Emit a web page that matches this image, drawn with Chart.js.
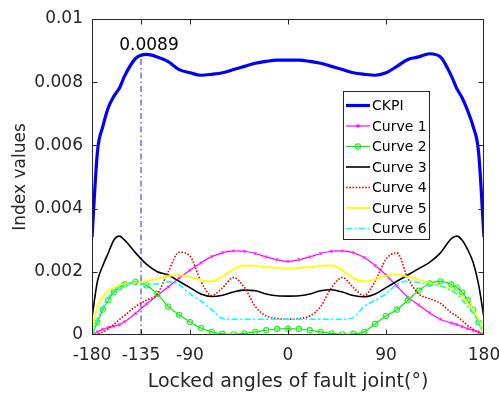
<!DOCTYPE html>
<html>
<head>
<meta charset="utf-8">
<script src="https://cdn.jsdelivr.net/npm/chart.js@4/dist/chart.umd.min.js"></script>
<style>
html,body{margin:0;padding:0;background:#fff;}
canvas{display:block;}
</style>
</head>
<body>
<canvas id="c" width="499" height="395"></canvas>
<script>
// ---- data ----
const angles = [-180,-175,-170,-165,-160,-155,-150,-140,-130,-120,-110,-100,-90,-80,-70,-60,-50,-40,-30,-20,-10,0,10,20,30,40,50,60,70,80,90,100,110,120,130,140,150,155,160,165,170,175,180];
const xTickValues = [-180,-135,-90,0,90,180];
const yTickValues = [0,0.002,0.004,0.006,0.008,0.01];
const seriesNames = ['CKPI','Curve 1','Curve 2','Curve 3','Curve 4','Curve 5','Curve 6'];

const ckpi = [0.0031,0.0058,0.0066,0.0072,0.00755,0.0078,0.0082,0.00875,0.00888,0.0088,0.00865,0.0084,0.0083,0.00822,0.00825,0.0083,0.0084,0.0085,0.0086,0.00866,0.0087,0.0087,0.0087,0.00866,0.0086,0.0085,0.0084,0.0083,0.00825,0.00822,0.0083,0.0085,0.00872,0.0088,0.0089,0.0088,0.0082,0.0078,0.0075,0.0071,0.0066,0.0058,0.0031];
const curve1 = [0,0.0001,0.00018,0.00024,0.00028,0.00032,0.00042,0.00068,0.00098,0.00125,0.00152,0.0018,0.00205,0.00228,0.00248,0.0026,0.00266,0.00265,0.00258,0.00247,0.00238,0.00233,0.00238,0.00247,0.00258,0.00265,0.00266,0.0026,0.00245,0.0022,0.0019,0.00155,0.0012,0.00095,0.0007,0.0005,0.00038,0.00033,0.00026,0.0002,0.00015,0.0001,0];
const curve2 = [0,0.0004,0.0008,0.0011,0.00135,0.0015,0.0016,0.00168,0.00157,0.0013,0.0009,0.00064,0.00041,0.00022,0.0001,0.00004,0.00002,0.00005,0.0001,0.00015,0.00019,0.0002,0.00019,0.00015,0.0001,0.00005,0.00002,0.00004,0.0001,0.00035,0.0006,0.0008,0.0011,0.0014,0.00163,0.0017,0.0016,0.0015,0.00135,0.0011,0.0008,0.0004,0];
const curve3 = [0.00055,0.0017,0.0022,0.0026,0.003,0.00313,0.003,0.0026,0.00224,0.002,0.0019,0.0017,0.0015,0.0013,0.00122,0.00126,0.00136,0.00142,0.0014,0.0013,0.00124,0.00123,0.00124,0.0013,0.0014,0.00143,0.00136,0.00125,0.00121,0.0013,0.0015,0.0017,0.0019,0.0021,0.0023,0.0026,0.00305,0.00313,0.003,0.0027,0.0023,0.0016,0.00054];
const curve4 = [0,0.00003,0.0001,0.0002,0.00033,0.00048,0.00062,0.0009,0.0011,0.0013,0.002,0.00262,0.0025,0.0017,0.00125,0.0015,0.00182,0.0015,0.0009,0.0006,0.00052,0.0005,0.00052,0.0006,0.0009,0.0015,0.00182,0.0015,0.00125,0.0017,0.0024,0.0026,0.0018,0.0013,0.00115,0.001,0.0007,0.0006,0.00045,0.0003,0.00018,0.00008,0];
const curve5 = [0.0001,0.0009,0.0012,0.0014,0.0015,0.00158,0.00162,0.00164,0.0017,0.00178,0.00186,0.0019,0.00184,0.00173,0.0017,0.00185,0.00208,0.0022,0.00218,0.00215,0.00212,0.0021,0.00212,0.00215,0.00218,0.0022,0.00205,0.0018,0.0017,0.00175,0.00188,0.0019,0.00185,0.00175,0.00165,0.00155,0.00144,0.0013,0.0012,0.001,0.0008,0.0005,0];
const curve6 = [0,0.0005,0.0009,0.0012,0.0014,0.0015,0.00158,0.00164,0.0016,0.00162,0.00168,0.0016,0.0013,0.00108,0.0008,0.00052,0.0005,0.0005,0.0005,0.0005,0.0005,0.0005,0.0005,0.0005,0.0005,0.0005,0.0005,0.00055,0.0009,0.0011,0.0013,0.0016,0.0017,0.00166,0.0016,0.00155,0.0014,0.0013,0.0011,0.0009,0.0007,0.0004,0];
const peakAngle = -135;
const peakValue = 0.0089;
const peakLabel = '0.0089';

// ---- chart ----
const FONT = 'DejaVu Sans';
const TXT = '#262626';
function pts(vals){ return vals.map((v,i)=>({x:angles[i], y:v})); }

const styles = [
  {borderColor:'#0000ff', borderWidth:3.2},
  {borderColor:'#ff00ff', borderWidth:1.2, pointStyle:'rect', pointRadius:1.6, pointBackgroundColor:'#ff00ff', pointBorderColor:'#ff66ff', pointBorderWidth:0.8},
  {borderColor:'#00ee00', borderWidth:1.2, pointStyle:'circle', pointRadius:2.6, pointBackgroundColor:'rgba(255,255,255,0)', pointBorderColor:'#22ee22', pointBorderWidth:1.1},
  {borderColor:'#000000', borderWidth:1.6},
  {borderColor:'#ff0000', borderWidth:1.6, borderDash:[1.6,1.6]},
  {borderColor:'#ffff00', borderWidth:1.8},
  {borderColor:'#00ffff', borderWidth:1.6, borderDash:[6,2.5,2,2.5]}
];
const allVals = [ckpi,curve1,curve2,curve3,curve4,curve5,curve6];
const datasets = allVals.map((vals,i)=>Object.assign({
  label: seriesNames[i],
  data: pts(vals),
  cubicInterpolationMode:'monotone',
  pointRadius:0,
  fill:false,
  order: 10 - i
}, styles[i]));
datasets.push({
  label:'_peak',
  data:[{x:peakAngle,y:0},{x:peakAngle,y:peakValue}],
  borderColor:'#2424e0', borderWidth:1, borderDash:[6,3,1.5,3],
  pointRadius:0, order:20
});

const framePlugin = {
  id:'frame',
  afterDraw(chart){
    const ctx = chart.ctx, a = chart.chartArea;
    const xs = chart.scales.x, ys = chart.scales.y;
    ctx.save();
    // box
    ctx.strokeStyle = TXT; ctx.lineWidth = 1; ctx.setLineDash([]);
    const L = Math.round(a.left)+0.5, R = Math.round(a.right)-0.5, T = Math.round(a.top)+0.5, B = Math.round(a.bottom)-0.5;
    ctx.strokeRect(L, T, R-L, B-T);
    // inner ticks on all sides
    const tl = 5;
    ctx.beginPath();
    xTickValues.forEach(v=>{
      const px = Math.round(xs.getPixelForValue(v))+0.5;
      if (px <= L+1 || px >= R-1) return;
      ctx.moveTo(px,B); ctx.lineTo(px,B-tl);
      ctx.moveTo(px,T); ctx.lineTo(px,T+tl);
    });
    yTickValues.forEach(v=>{
      const py = Math.round(ys.getPixelForValue(v))+0.5;
      if (py <= T+1 || py >= B-1) return;
      ctx.moveTo(L,py); ctx.lineTo(L+tl,py);
      ctx.moveTo(R,py); ctx.lineTo(R-tl,py);
    });
    ctx.stroke();
    // peak label
    ctx.fillStyle = '#000';
    ctx.font = '17px "' + FONT + '"';
    ctx.textAlign = 'center'; ctx.textBaseline = 'alphabetic';
    ctx.fillText(peakLabel, xs.getPixelForValue(peakAngle)+8, ys.getPixelForValue(peakValue)-4);
    // legend
    const box = {x:343, y:91, w:86, h:148};
    ctx.fillStyle = '#fff';
    ctx.fillRect(box.x, box.y, box.w, box.h);
    ctx.strokeStyle = '#262626'; ctx.lineWidth = 1;
    ctx.strokeRect(box.x+0.5, box.y+0.5, box.w, box.h);
    const step = 20.5;
    chart.data.datasets.forEach((ds,i)=>{
      if (ds.label.startsWith('_')) return;
      const cy = box.y + 14.5 + i*step;
      const x0 = box.x + 3, x1 = box.x + 27;
      ctx.save();
      ctx.strokeStyle = ds.borderColor; ctx.lineWidth = ds.borderWidth;
      ctx.setLineDash(ds.borderDash || []);
      ctx.beginPath(); ctx.moveTo(x0,cy); ctx.lineTo(x1,cy); ctx.stroke();
      ctx.setLineDash([]);
      if (ds.pointRadius > 0) {
        const mx = (x0+x1)/2;
        ctx.beginPath();
        if (ds.pointStyle === 'rect') {
          ctx.fillStyle = ds.pointBackgroundColor;
          ctx.fillRect(mx-1.5, cy-1.5, 3, 3);
        } else {
          ctx.strokeStyle = ds.pointBorderColor; ctx.lineWidth = ds.pointBorderWidth;
          ctx.arc(mx, cy, ds.pointRadius, 0, Math.PI*2); ctx.stroke();
        }
      }
      ctx.restore();
      ctx.fillStyle = '#000';
      ctx.font = '14px "' + FONT + '"';
      ctx.textAlign = 'left'; ctx.textBaseline = 'middle';
      ctx.fillText(ds.label, x1 + 2, cy + 1);
    });
    ctx.restore();
  }
};

new Chart(document.getElementById('c'), {
  type:'line',
  data:{datasets},
  options:{
    responsive:false,
    animation:false,
    events:[],
    layout:{padding:{top:19, right:15, left:0, bottom:0}},
    plugins:{legend:{display:false}, tooltip:{enabled:false}},
    scales:{
      x:{
        type:'linear', min:-180, max:180,
        afterBuildTicks(s){ s.ticks = xTickValues.map(v=>({value:v})); },
        afterFit(s){ s.height = 60; s.paddingLeft = 0; s.paddingRight = 0; },
        grid:{display:false, drawTicks:false},
        border:{display:false},
        ticks:{color:TXT, font:{family:FONT, size:17}, padding:10, maxRotation:0, autoSkip:false,
          callback:(v)=>String(v)},
        title:{display:true, text:'Locked angles of fault joint(°)', color:TXT,
          font:{family:FONT, size:19}, padding:{top:0, bottom:2}}
      },
      y:{
        min:0, max:0.01,
        afterBuildTicks(s){ s.ticks = yTickValues.map(v=>({value:v})); },
        afterFit(s){ s.width = 92; s.paddingTop = 0; s.paddingBottom = 0; },
        grid:{display:false, drawTicks:false},
        border:{display:false},
        ticks:{color:TXT, font:{family:FONT, size:17}, padding:9,
          callback:(v)=>String(Number(v.toFixed(4)))},
        title:{display:true, text:'Index values', color:TXT,
          font:{family:FONT, size:17}, padding:{top:10, bottom:0}}
      }
    }
  },
  plugins:[framePlugin]
});
</script>
</body>
</html>
